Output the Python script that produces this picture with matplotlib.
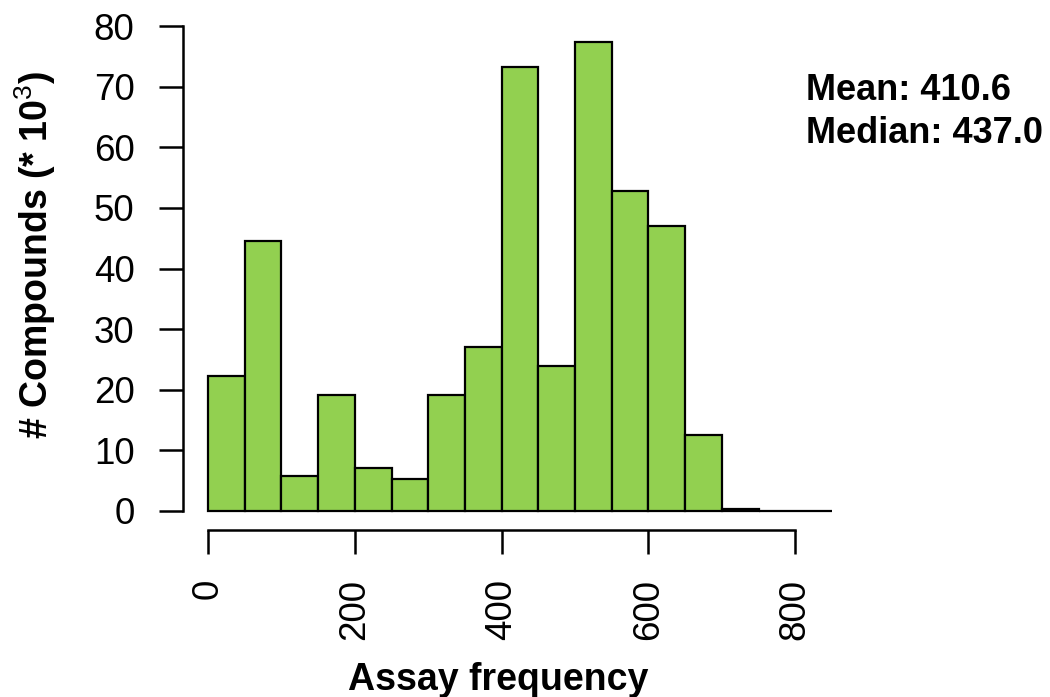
import matplotlib
matplotlib.use("Agg")
import matplotlib.pyplot as plt
import numpy as np

plt.rcParams['font.family'] = ['Liberation Sans', 'DejaVu Sans']
plt.rcParams['mathtext.fontset'] = 'custom'
plt.rcParams['mathtext.rm'] = 'Liberation Sans'
plt.rcParams['mathtext.bf'] = 'Liberation Sans:bold'

# histogram bins (assay frequency) and counts (* 10^3)
bin_edges = np.arange(0, 851, 50)
counts = [22.3, 44.5, 5.7, 19.1, 7.1, 5.3, 19.1, 27.1, 73.3, 23.9,
          77.4, 52.8, 47.0, 12.5, 0.3, 0.08, 0.03]
x_ticks = [0, 200, 400, 600, 800]
y_ticks = [0, 10, 20, 30, 40, 50, 60, 70, 80]
mean_txt = "Mean: 410.6"
median_txt = "Median: 437.0"

fig = plt.figure(figsize=(10.5, 6.97), dpi=100)
ax = fig.add_axes([183/1050, 1-530.4/697, (857-183)/1050, (530.4-6.6)/697])

ax.bar(bin_edges[:-1], counts, width=50, align='edge',
       color='#92D050', edgecolor='black', linewidth=1.6)

# R-like axis ranges (4% padding)
ax.set_xlim(-34, 884)
ax.set_ylim(-3.2, 83.2)

for s in ['top', 'right']:
    ax.spines[s].set_visible(False)
ax.spines['left'].set_bounds(0, 80)
ax.spines['bottom'].set_bounds(0, 800)
for s in ['left', 'bottom']:
    ax.spines[s].set_linewidth(1.8)

ax.set_xticks(x_ticks)
ax.set_yticks(y_ticks)
ax.set_xticklabels([str(v) for v in x_ticks], rotation=90)
ax.tick_params(axis='both', length=17, width=1.8, pad=18, labelsize=26.5)

fig.text(498/1050, 1-690/697, "Assay frequency", ha='center', va='baseline',
         fontsize=27, fontweight='bold')
fig.text(35/1050, 1-255/697, r"# Compounds (* 10$^{\mathrm{3}}$)", ha='center', va='center',
         rotation=90, fontsize=27, fontweight='bold')

fig.text(806/1050, 1-100/697, mean_txt, ha='left', va='baseline',
         fontsize=26, fontweight='bold')
fig.text(806/1050, 1-143/697, median_txt, ha='left', va='baseline',
         fontsize=26, fontweight='bold')

fig.savefig("out.png", dpi=100)
